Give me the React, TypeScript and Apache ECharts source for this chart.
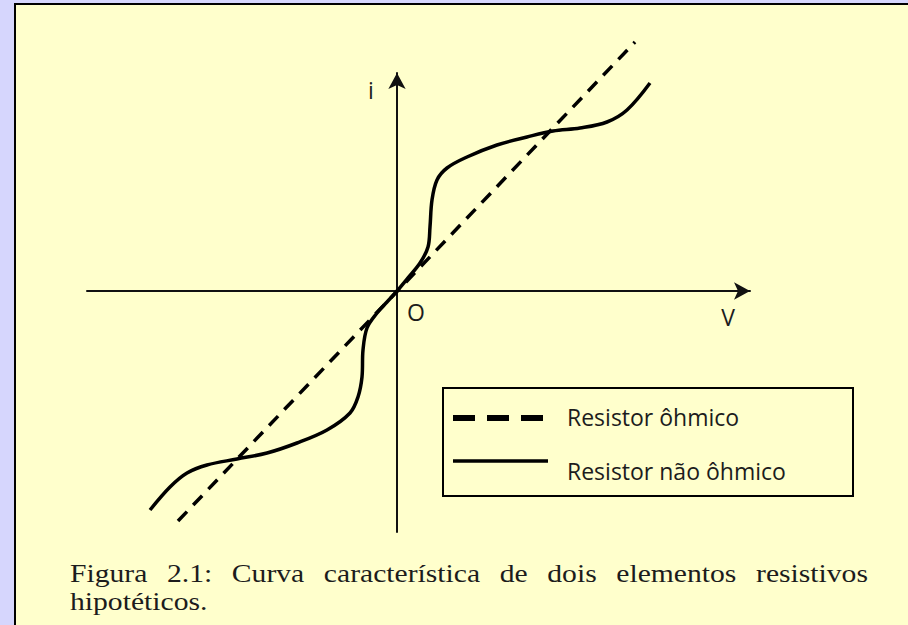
import React, { useEffect, useRef } from "react";
import * as echarts from "echarts";

// Ohmic resistor: straight line through the origin (V, i)
const ohmicV = [-2.19, 2.38];
const ohmicI = [-2.3, 2.49];

// Non-ohmic resistor: S-shaped characteristic curve (V, i)
const curveV = [
  -2.47, -2.27, -2.1, -1.9, -1.6, -1.3, -1.0, -0.7, -0.47, -0.39, -0.35, -0.34, -0.3, -0.2, -0.1, 0,
  0.1, 0.23, 0.31, 0.33, 0.35, 0.4, 0.5, 0.7, 1.0, 1.3, 1.56, 1.83, 2.1, 2.3, 2.53,
];
const curveI = [
  -2.19, -1.96, -1.82, -1.74, -1.68, -1.62, -1.52, -1.39, -1.22, -1.06, -0.86, -0.59, -0.37, -0.22, -0.11, 0,
  0.12, 0.28, 0.44, 0.64, 0.91, 1.11, 1.23, 1.34, 1.46, 1.54, 1.6, 1.63, 1.69, 1.81, 2.08,
];

const legendNames = ["Resistor ôhmico", "Resistor não ôhmico"];
const axisNames = { x: "V", y: "i", origin: "O" };
const captionLine1 = ["Figura", "2.1:", "Curva", "característica", "de", "dois", "elementos", "resistivos"];
const captionLine2 = "hipotéticos.";

export default function App() {
  const ref = useRef<HTMLDivElement>(null);
  useEffect(() => {
    document.body.style.margin = "0";
    const chart = echarts.init(ref.current!, null, { renderer: "svg" });
    const ink = "#1c1c1c";
    const sans = "'Open Sans', sans-serif";
    const serif = "'Liberation Serif', 'Times New Roman', serif";
    const captionFont = `26px ${serif}`;
    const capScale = 1.14;
    const capLeft = 70;
    const capRight = 868;

    // justify caption line 1 between capLeft and capRight
    const ctx = document.createElement("canvas").getContext("2d")!;
    ctx.font = captionFont;
    const widths = captionLine1.map((w) => ctx.measureText(w).width * capScale);
    const total = widths.reduce((a, b) => a + b, 0);
    const gap = (capRight - capLeft - total) / (captionLine1.length - 1);
    const xs: number[] = [];
    let cx = capLeft;
    widths.forEach((w) => {
      xs.push(cx);
      cx += w + gap;
    });

    const axisCommon = {
      type: "value" as const,
      axisLine: {
        show: true,
        onZero: true,
        symbol: ["none", "arrow"],
        symbolSize: [13, 16],
        lineStyle: { color: "#111", width: 2 },
      },
      axisTick: { show: false },
      axisLabel: { show: false },
      splitLine: { show: false },
    };
    const captionTexts: any[] = captionLine1.map((w, k) => ({
      type: "text",
      x: xs[k],
      y: 573,
      scaleX: capScale,
      z: 10,
      style: { text: w, font: captionFont, fill: ink, verticalAlign: "middle" },
    }));
    captionTexts.push({
      type: "text",
      x: capLeft,
      y: 601,
      scaleX: capScale,
      z: 10,
      style: { text: captionLine2, font: captionFont, fill: ink, verticalAlign: "middle" },
    });
    chart.setOption({
      animation: false,
      backgroundColor: "#D6D6FD",
      grid: { left: 87, right: 158, top: 73, bottom: 93 },
      xAxis: { ...axisCommon, min: -3.1, max: 3.53 },
      yAxis: { ...axisCommon, min: -2.41, max: 2.18 },
      series: [
        {
          name: legendNames[0],
          type: "line",
          symbol: "none",
          clip: false,
          data: ohmicV.map((v, k) => [v, ohmicI[k]]),
          lineStyle: { color: "#000", width: 3.5, type: [13, 9] },
          z: 3,
        },
        {
          name: legendNames[1],
          type: "line",
          symbol: "none",
          clip: false,
          smooth: 0.35,
          data: curveV.map((v, k) => [v, curveI[k]]),
          lineStyle: { color: "#000", width: 3.5 },
          z: 4,
        },
      ],
      graphic: [
        {
          type: "rect",
          z: -10,
          shape: { x: 15, y: 4, width: 1000, height: 1000 },
          style: { fill: "#FFFFCC", stroke: "#000", lineWidth: 2 },
        },
        {
          type: "rect",
          z: 10,
          shape: { x: 443, y: 388, width: 410, height: 108 },
          style: { fill: "#FFFFCC", stroke: "#000", lineWidth: 2 },
        },
        {
          type: "line",
          z: 11,
          shape: { x1: 453, y1: 418, x2: 548, y2: 418 },
          style: { stroke: "#000", lineWidth: 6, lineDash: [22, 12] },
        },
        {
          type: "line",
          z: 11,
          shape: { x1: 453, y1: 461, x2: 548, y2: 461 },
          style: { stroke: "#000", lineWidth: 3.5 },
        },
        {
          type: "text",
          z: 11,
          x: 567,
          y: 417,
          style: { text: legendNames[0], font: `23px ${sans}`, fill: ink, verticalAlign: "middle" },
        },
        {
          type: "text",
          z: 11,
          x: 567,
          y: 471,
          style: { text: legendNames[1], font: `23px ${sans}`, fill: ink, verticalAlign: "middle" },
        },
        {
          type: "text",
          z: 11,
          x: 728,
          y: 317,
          style: { text: axisNames.x, font: `23px ${sans}`, fill: ink, align: "center", verticalAlign: "middle" },
        },
        {
          type: "text",
          z: 11,
          x: 371,
          y: 90,
          style: { text: axisNames.y, font: `23px ${sans}`, fill: ink, align: "center", verticalAlign: "middle" },
        },
        {
          type: "text",
          z: 11,
          x: 416,
          y: 312,
          style: { text: axisNames.origin, font: `23px ${sans}`, fill: ink, align: "center", verticalAlign: "middle" },
        },
        ...captionTexts,
      ],
    });
    return () => chart.dispose();
  }, []);
  return <div ref={ref} style={{ width: 908, height: 625 }} />;
}
